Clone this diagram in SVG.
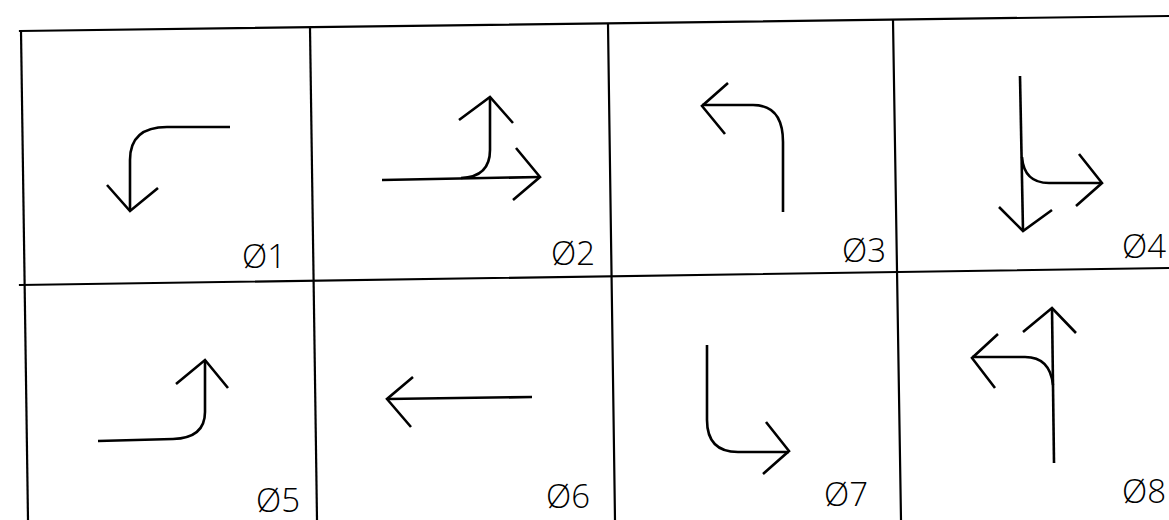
<svg xmlns="http://www.w3.org/2000/svg" width="1169" height="520" viewBox="0 0 1169 520">
<style>
.grid{stroke:#000;stroke-width:2.2;fill:none;stroke-linecap:square}
.arr{stroke:#000;stroke-width:2.6;fill:none;stroke-linejoin:miter;stroke-linecap:butt}
.lbl{font-family:"Open Sans","Liberation Sans",Arial,sans-serif;font-weight:300;font-size:33px;fill:#000;text-anchor:end}
</style>
<rect width="1169" height="520" fill="#fff"/>
<g id="grid">
<path class="grid" d="M20,31 L1169,16"/>
<path class="grid" d="M20,285 L1169,268"/>
<path class="grid" d="M21,31 L28,520"/>
<path class="grid" d="M310,28 L317,520"/>
<path class="grid" d="M608,24 L615,520"/>
<path class="grid" d="M893,20 L901,520"/>
</g>
<g id="phase1">
<path class="arr" d="M230,127 H167 Q130,127 130,160 V211"/>
<path class="arr" d="M107,185 L130,211 L158,188"/>
<text class="lbl" x="286" y="268">Ø1</text>
</g>
<g id="phase2">
<path class="arr" d="M382,180 L540,177"/>
<path class="arr" d="M516,148 L540,177 L513,200"/>
<path class="arr" d="M490,97 V150 Q490,177 461,178"/>
<path class="arr" d="M459,120 L490,97 L513,123"/>
<text class="lbl" x="595" y="265">Ø2</text>
</g>
<g id="phase3">
<path class="arr" d="M783,212 V142 Q783,105 753,105 H702"/>
<path class="arr" d="M728,83 L702,106 L725,134"/>
<text class="lbl" x="886" y="262">Ø3</text>
</g>
<g id="phase4">
<path class="arr" d="M1020,76 L1023,231"/>
<path class="arr" d="M999,207 L1023,231 L1052,210"/>
<path class="arr" d="M1022,157 Q1024,183 1049,183 H1102"/>
<path class="arr" d="M1079,154 L1102,183 L1076,206"/>
<text class="lbl" x="1166" y="258">Ø4</text>
</g>
<g id="phase5">
<path class="arr" d="M98,441 L173,439 Q205,438 205,412 V360"/>
<path class="arr" d="M176,384 L205,360 L228,388"/>
<text class="lbl" x="300" y="512">Ø5</text>
</g>
<g id="phase6">
<path class="arr" d="M532,397 L387,399"/>
<path class="arr" d="M413,377 L387,399 L411,427"/>
<text class="lbl" x="590" y="508">Ø6</text>
</g>
<g id="phase7">
<path class="arr" d="M707,345 V420 Q707,452 738,452 H789"/>
<path class="arr" d="M766,422 L789,451 L763,474"/>
<text class="lbl" x="868" y="506">Ø7</text>
</g>
<g id="phase8">
<path class="arr" d="M1054,463 L1052,308"/>
<path class="arr" d="M1023,332 L1052,308 L1076,333"/>
<path class="arr" d="M1053,385 Q1050,357 1025,357 H972"/>
<path class="arr" d="M998,334 L972,358 L995,388"/>
<text class="lbl" x="1166" y="503">Ø8</text>
</g>
</svg>
